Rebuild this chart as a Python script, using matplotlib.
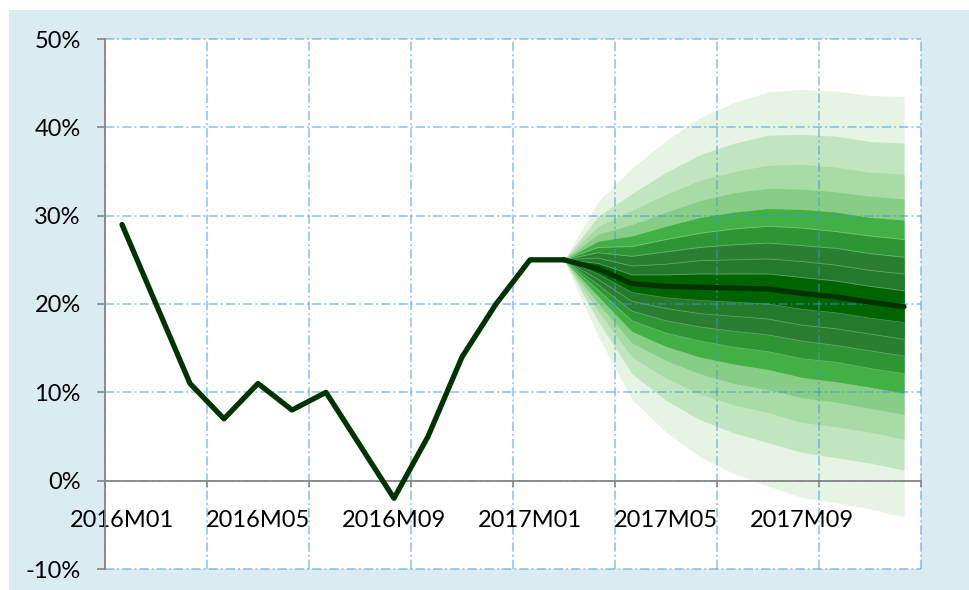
import matplotlib.pyplot as plt
from matplotlib.patches import Rectangle
from matplotlib.ticker import FixedLocator

plt.rcParams['font.family'] = ['Lato', 'DejaVu Sans']

# Catégories mensuelles (axe X)
mois = ['2016M01', '2016M02', '2016M03', '2016M04', '2016M05', '2016M06',
        '2016M07', '2016M08', '2016M09', '2016M10', '2016M11', '2016M12',
        '2017M01', '2017M02', '2017M03', '2017M04', '2017M05', '2017M06',
        '2017M07', '2017M08', '2017M09', '2017M10', '2017M11', '2017M12']
mois_etiquettes = ['2016M01', '2016M05', '2016M09', '2017M01', '2017M05', '2017M09']
y_ticks = [-10, 0, 10, 20, 30, 40, 50]

# Historique 2016M01 -> 2017M02 (%)
historique = [29, 20, 11, 7, 11, 8, 10, 4, -2, 5, 14, 20, 25, 25]

# Prévision centrale 2017M02 -> 2017M12 (%)
centrale = [25.0, 24.0, 22.3, 22.0, 21.9, 21.8, 21.7, 21.2, 20.8, 20.2, 19.7]

# Bornes du graphique en éventail (quantiles), 2017M02 -> 2017M12
q05 = [25.0, 16.4, 9.2, 5.5, 2.7, 0.8, -0.6, -1.9, -2.5, -3.2, -4.1]
q10 = [25.0, 18.1, 12.1, 9.1, 6.9, 5.4, 4.3, 3.2, 2.6, 2.0, 1.2]
q15 = [25.0, 19.2, 14.0, 11.6, 9.8, 8.6, 7.7, 6.6, 6.1, 5.5, 4.7]
q20 = [25.0, 20.1, 15.6, 13.6, 12.1, 11.0, 10.3, 9.4, 8.9, 8.2, 7.5]
q25 = [25.0, 20.9, 16.9, 15.2, 14.0, 13.2, 12.6, 11.7, 11.2, 10.6, 9.9]
q30 = [25.0, 21.6, 18.1, 16.7, 15.8, 15.1, 14.6, 13.8, 13.4, 12.7, 12.1]
q35 = [25.0, 22.2, 19.2, 18.1, 17.4, 16.9, 16.5, 15.8, 15.3, 14.7, 14.1]
q40 = [25.0, 22.8, 20.3, 19.5, 18.9, 18.6, 18.3, 17.6, 17.2, 16.6, 16.0]
q45 = [25.0, 23.4, 21.3, 20.7, 20.4, 20.2, 20.0, 19.4, 19.0, 18.4, 17.9]
q55 = [25.0, 24.6, 23.3, 23.3, 23.4, 23.4, 23.4, 23.0, 22.6, 22.0, 21.5]
q60 = [25.0, 25.2, 24.3, 24.5, 24.9, 25.0, 25.1, 24.8, 24.4, 23.8, 23.4]
q65 = [25.0, 25.8, 25.4, 25.9, 26.4, 26.7, 26.9, 26.6, 26.3, 25.7, 25.3]
q70 = [25.0, 26.4, 26.5, 27.3, 28.0, 28.5, 28.8, 28.6, 28.2, 27.7, 27.3]
q75 = [25.0, 27.1, 27.7, 28.8, 29.8, 30.4, 30.8, 30.7, 30.4, 29.8, 29.5]
q80 = [25.0, 27.9, 29.0, 30.4, 31.7, 32.6, 33.1, 33.0, 32.7, 32.2, 31.9]
q85 = [25.0, 28.8, 30.6, 32.4, 34.0, 35.0, 35.7, 35.8, 35.5, 34.9, 34.7]
q90 = [25.0, 29.9, 32.5, 34.9, 36.9, 38.2, 39.1, 39.2, 39.0, 38.4, 38.2]
q95 = [25.0, 31.6, 35.4, 38.5, 41.1, 42.8, 44.0, 44.3, 44.1, 43.6, 43.5]

couleurs = ['#e6f4e4', '#c1e5be', '#a9dba6', '#88cd85', '#42b045',
            '#2e9534', '#2a7e2f', '#227a2a', '#006400']

x_hist = list(range(len(historique)))
x_prev = list(range(len(historique) - 1, len(mois)))

fig = plt.figure(figsize=(9.69, 5.90), dpi=100)
fig.patch.set_facecolor('white')
fig.patches.append(Rectangle((9 / 969, 0), 1, 580 / 590, transform=fig.transFigure,
                             facecolor='#daecf2', edgecolor='none', zorder=-10))

ax = fig.add_axes([105 / 969, 21 / 590, 816 / 969, 530 / 590])
ax.set_facecolor('white')

# Éventail : du plus large au plus étroit
bas = [q05, q10, q15, q20, q25, q30, q35, q40, q45]
haut = [q95, q90, q85, q80, q75, q70, q65, q60, q55]
for b, h, c in zip(bas, haut, couleurs):
    ax.fill_between(x_prev, b, h, color=c, linewidth=0, zorder=1)
for q in [q30, q35, q40, q45, q55, q60, q65, q70]:
    ax.plot(x_prev, q, color='white', alpha=0.3, lw=0.6, zorder=1.5)

ax.plot(x_hist, historique, color='#013301', lw=3.8, solid_joinstyle='round',
        solid_capstyle='round', zorder=4)
ax.plot(x_prev, centrale, color='#013301', lw=3.8, solid_joinstyle='round',
        solid_capstyle='round', zorder=4)

ax.set_xlim(-0.5, len(mois) - 0.5)
ax.set_ylim(-10, 50)

# Axe X : graduations aux frontières (tous les 3 mois), étiquettes tous les 4 mois
ax.xaxis.set_major_locator(FixedLocator([i - 0.5 for i in range(0, len(mois) + 1, 3)]))
ax.xaxis.set_major_formatter(plt.NullFormatter())
pos_etiq = [mois.index(m) for m in mois_etiquettes]
ax.set_xticks(pos_etiq, minor=True)
ax.set_xticklabels(mois_etiquettes, minor=True)
ax.tick_params(axis='x', which='major', direction='out', length=4.3, width=1.2, color='#868686')
ax.tick_params(axis='x', which='minor', length=0, pad=21, labelsize=17, labelcolor='black')

ax.set_yticks(y_ticks)
ax.set_yticklabels([f'{v}%' for v in y_ticks])
ax.tick_params(axis='y', direction='out', length=5.5, width=1.2, color='#868686',
               pad=12, labelsize=17, labelcolor='black')

for s in ['top', 'right']:
    ax.spines[s].set_visible(False)
ax.spines['bottom'].set_position(('data', 0))
for s in ['left', 'bottom']:
    ax.spines[s].set_color('#868686')
    ax.spines[s].set_linewidth(1.3)
    ax.spines[s].set_zorder(3)

ax.grid(True, which='major', color='#3d95d8', alpha=0.6, lw=1.1,
        linestyle=(0, (6, 2, 1.3, 2)))
for ligne in ax.get_xgridlines() + ax.get_ygridlines():
    ligne.set_clip_on(False)
    ligne.set_zorder(2)

fig.savefig('out.png', dpi=100, facecolor=fig.get_facecolor())
